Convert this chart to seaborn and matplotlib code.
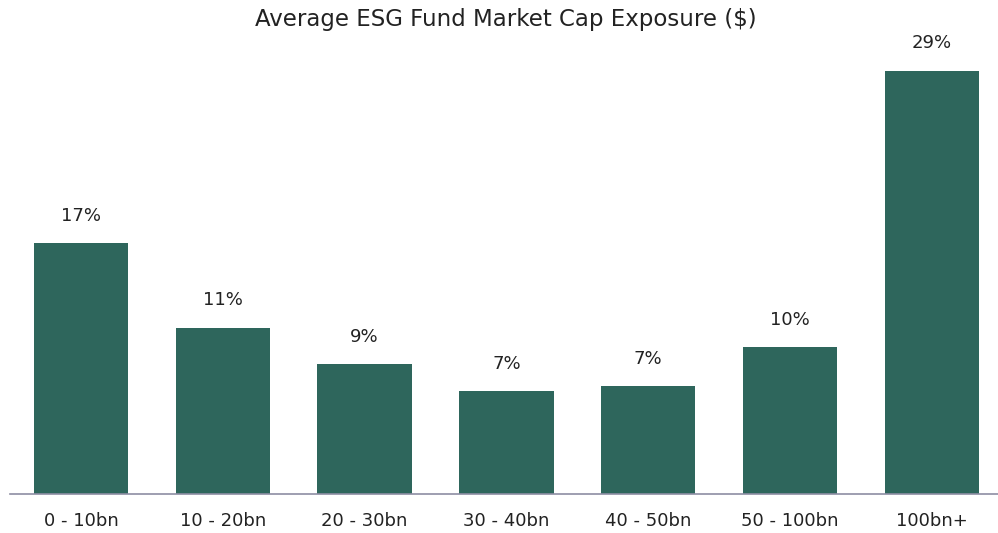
import matplotlib
matplotlib.use("Agg")
import matplotlib.pyplot as plt
import seaborn as sns
import pandas as pd

categories = ["0 - 10bn", "10 - 20bn", "20 - 30bn", "30 - 40bn", "40 - 50bn", "50 - 100bn", "100bn+"]
values = [17.2, 11.4, 8.9, 7.05, 7.4, 10.07, 29.0]
labels = ["17%", "11%", "9%", "7%", "7%", "10%", "29%"]

sns.set_theme(style="white")
plt.rcParams["font.family"] = ["DejaVu Sans"]

df = pd.DataFrame({"cat": categories, "val": values})
fig = plt.figure(figsize=(9.98, 5.33), dpi=100)
ax = fig.add_axes([0.0101, 0.0732, 0.9947, 0.852])
sns.barplot(data=df, x="cat", y="val", color="#2e665c", saturation=1, width=0.665,
            linewidth=0, ax=ax)
ax.set_xlim(-0.5, 6.5)
ax.set_ylim(0, 31.1)
ax.bar_label(ax.containers[0], labels=labels, padding=13, fontsize=13, color="#222222")
for s in ["top", "right", "left"]:
    ax.spines[s].set_visible(False)
ax.spines["bottom"].set_color("#8e8ea3")
ax.spines["bottom"].set_linewidth(1.2)
ax.set_yticks([])
ax.set_xlabel("")
ax.set_ylabel("")
ax.tick_params(axis="x", length=0, pad=13, labelsize=13, labelcolor="#222222")
fig.text(0.507, 0.964, "Average ESG Fund Market Cap Exposure ($)", ha="center", va="center", fontsize=16.5, color="#222222")
fig.savefig("out.png", dpi=100)
